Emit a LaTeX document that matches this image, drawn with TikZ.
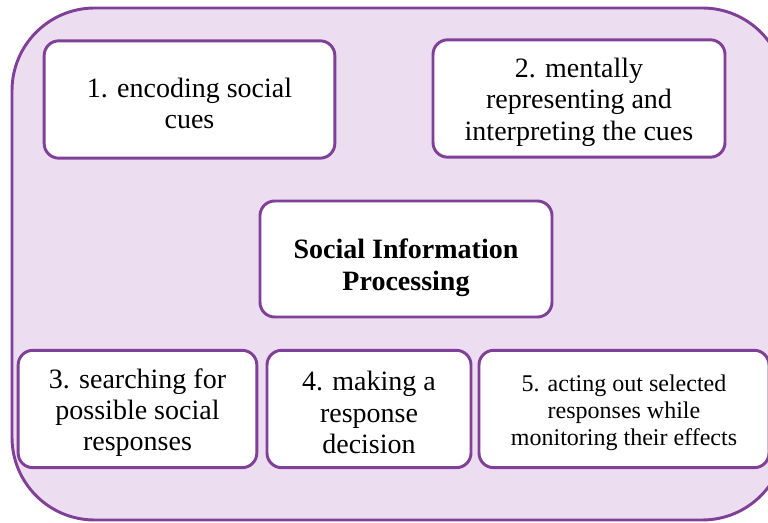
\documentclass[tikz,border=0pt]{standalone}
\usepackage{fontspec}
\setmainfont{Liberation Serif}
\definecolor{pborder}{RGB}{128,64,152}
\definecolor{pfill}{RGB}{236,222,240}
\begin{document}
\begin{tikzpicture}[x=0.75pt,y=-0.75pt,
  outerbox/.style={draw=pborder, line width=2.2pt, fill=pfill, rounded corners=62pt},
  stepbox/.style={draw=pborder, line width=2.2pt, fill=white, rounded corners=11pt,
    inner sep=0pt, minimum height=88pt},
  steptext/.style={align=center, inner sep=0pt, yshift=-2.8pt, font=\fontsize{21}{23.5}\selectfont},
  smalltext/.style={steptext, font=\fontsize{18}{20.5}\selectfont},
  titletext/.style={steptext, yshift=-3.6pt, font=\fontsize{21}{24}\selectfont\bfseries}]
\useasboundingbox (0,0) rectangle (768,523);
\begin{scope}
  \clip (0,0) rectangle (768,523);
  \draw[outerbox] (12,8) rectangle (785,520);
\end{scope}
\node[stepbox, minimum width=218pt, label={[steptext]center:{1. encoding social\\cues}}] (s1) at (189.5,99.5) {};
\node[stepbox, minimum width=219pt, label={[steptext]center:{2. mentally\\representing and\\interpreting the cues}}] (s2) at (579,98.5) {};
\node[stepbox, minimum width=219pt, minimum height=87pt, label={[titletext]center:{Social Information\\Processing}}] (sip) at (406,259) {};
\node[stepbox, minimum width=179pt, label={[steptext]center:{3. searching for\\possible social\\responses}}] (s3) at (137.5,409) {};
\node[stepbox, minimum width=153pt, label={[steptext]center:{4. making a\\response\\decision}}] (s4) at (369,409) {};
\node[stepbox, minimum width=217.5pt, label={[smalltext]center:{5. acting out selected\\responses while\\monitoring their effects}}] (s5) at (624,409) {};
\end{tikzpicture}
\end{document}
